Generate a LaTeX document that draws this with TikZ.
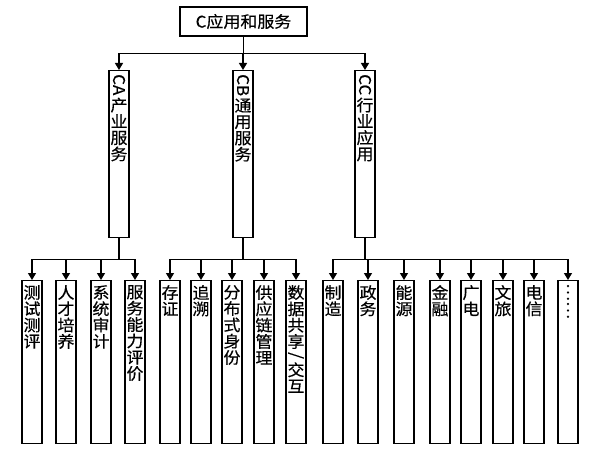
\documentclass[tikz,border=0pt]{standalone}
\usepackage{fontspec}
\setmainfont{Noto Sans CJK SC}[FakeBold=0.4,FakeStretch=1.06]
\usepackage{tikz}
\usetikzlibrary{shapes,arrows,arrows.meta,positioning,calc}
\tikzstyle{root} = [rectangle, minimum width=127pt, minimum height=29pt, inner sep=0pt, text centered, draw=black, line width=1.2pt, font=\fontsize{16}{16}\selectfont]
\tikzstyle{branch} = [rectangle, minimum width=20pt, minimum height=167pt, inner sep=0pt, anchor=north, draw=black, line width=1.2pt]
\tikzstyle{leaf} = [rectangle, minimum width=20pt, minimum height=163pt, inner sep=0pt, anchor=north, draw=black, line width=1.2pt]
\tikzstyle{vlabel} = [inner sep=0pt, align=center, font=\fontsize{16}{16.3}\selectfont]
\tikzstyle{tag} = [inner sep=0pt, rotate=-90, anchor=west, font=\fontsize{16}{16}\selectfont]
\tikzstyle{arrow} = [line width=1.2pt,-{Triangle[length=7pt,width=8pt]}]

\begin{document}
\begin{tikzpicture}[x=1pt,y=1pt]
	\useasboundingbox (0,0) rectangle (599,453);
	\node (C) [root] at (243.5,431.5) {C应用和服务};

	% second level
	\node (CA) [branch] at (119,383) {};
	\node (CB) [branch] at (243,383) {};
	\node (CC) [branch] at (365,383) {};
	\node (CAtag) [tag] at ([yshift=-4pt]CA.north) {CA};
	\node (CBtag) [tag] at ([yshift=-4pt]CB.north) {CB};
	\node (CCtag) [tag] at ([yshift=-4pt]CC.north) {CC};
	\node (CAtext) [vlabel, below=2pt of CAtag.east] {产\\业\\服\\务};
	\node (CBtext) [vlabel, below=2pt of CBtag.east] {通\\用\\服\\务};
	\node (CCtext) [vlabel, below=2pt of CCtag.east] {行\\业\\应\\用};

	% third level
	\node (testing) [leaf] at (32,173) {};
	\node (talent) [leaf] at (66,173) {};
	\node (audit) [leaf] at (101,173) {};
	\node (ability) [leaf] at (135,173) {};
	\node (deposit) [leaf] at (170,173) {};
	\node (trace) [leaf] at (201,173) {};
	\node (identity) [leaf] at (232,173) {};
	\node (supply) [leaf] at (264,173) {};
	\node (datashare) [leaf] at (296,173) {};
	\node (manufacture) [leaf] at (333,173) {};
	\node (government) [leaf] at (368,173) {};
	\node (energy) [leaf] at (404,173) {};
	\node (finance) [leaf] at (440,173) {};
	\node (broadcast) [leaf] at (471,173) {};
	\node (tourism) [leaf] at (503,173) {};
	\node (telecom) [leaf] at (534,173) {};
	\node (others) [leaf] at (568,173) {};

	\node (testingtext) [vlabel, below=5pt of testing.north] {测\\试\\测\\评};
	\node (talenttext) [vlabel, below=5pt of talent.north] {人\\才\\培\\养};
	\node (audittext) [vlabel, below=5pt of audit.north] {系\\统\\审\\计};
	\node (abilitytext) [vlabel, below=5pt of ability.north] {服\\务\\能\\力\\评\\价};
	\node (deposittext) [vlabel, below=5pt of deposit.north] {存\\证};
	\node (tracetext) [vlabel, below=5pt of trace.north] {追\\溯};
	\node (identitytext) [vlabel, below=5pt of identity.north] {分\\布\\式\\身\\份};
	\node (supplytext) [vlabel, below=5pt of supply.north] {供\\应\\链\\管\\理};
	\node (datasharetext) [vlabel, below=5pt of datashare.north] {数\\据\\共\\享};
	\node (slash) [tag] at ([yshift=-3pt]datasharetext.south) {/};
	\node (exchangetext) [vlabel, below=3pt of slash.east] {交\\互};
	\node (manufacturetext) [vlabel, below=5pt of manufacture.north] {制\\造};
	\node (governmenttext) [vlabel, below=5pt of government.north] {政\\务};
	\node (energytext) [vlabel, below=5pt of energy.north] {能\\源};
	\node (financetext) [vlabel, below=5pt of finance.north] {金\\融};
	\node (broadcasttext) [vlabel, below=5pt of broadcast.north] {广\\电};
	\node (tourismtext) [vlabel, below=5pt of tourism.north] {文\\旅};
	\node (telecomtext) [vlabel, below=5pt of telecom.north] {电\\信};
	\node (dots) [tag] at ([yshift=-3pt]others.north) {……};

	% connectors
	\draw[arrow] (C.south) -- ++(0,-17) -| (CA.north);
	\draw[arrow] (C.south) -- ++(0,-17) -| (CB.north);
	\draw[arrow] (C.south) -- ++(0,-17) -| (CC.north);

	\draw[arrow] (CA.south) -- ++(0,-21) -| (testing.north);
	\draw[arrow] (CA.south) -- ++(0,-21) -| (talent.north);
	\draw[arrow] (CA.south) -- ++(0,-21) -| (audit.north);
	\draw[arrow] (CA.south) -- ++(0,-21) -| (ability.north);

	\draw[arrow] (CB.south) -- ++(0,-21) -| (deposit.north);
	\draw[arrow] (CB.south) -- ++(0,-21) -| (trace.north);
	\draw[arrow] (CB.south) -- ++(0,-21) -| (identity.north);
	\draw[arrow] (CB.south) -- ++(0,-21) -| (supply.north);
	\draw[arrow] (CB.south) -- ++(0,-21) -| (datashare.north);

	\draw[arrow] (CC.south) -- ++(0,-21) -| (manufacture.north);
	\draw[arrow] (CC.south) -- ++(0,-21) -| (government.north);
	\draw[arrow] (CC.south) -- ++(0,-21) -| (energy.north);
	\draw[arrow] (CC.south) -- ++(0,-21) -| (finance.north);
	\draw[arrow] (CC.south) -- ++(0,-21) -| (broadcast.north);
	\draw[arrow] (CC.south) -- ++(0,-21) -| (tourism.north);
	\draw[arrow] (CC.south) -- ++(0,-21) -| (telecom.north);
	\draw[arrow] (CC.south) -- ++(0,-21) -| (others.north);
\end{tikzpicture}
\end{document}
